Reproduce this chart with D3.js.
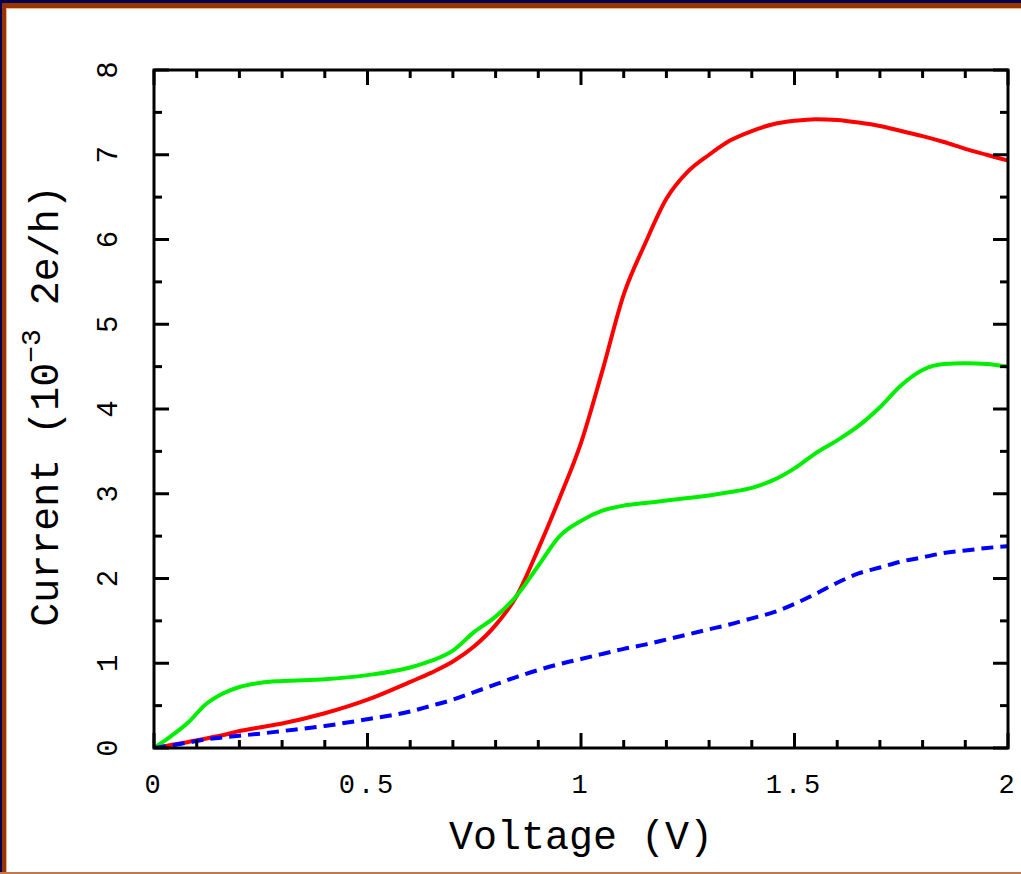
<!DOCTYPE html>
<html>
<head>
<meta charset="utf-8">
<script src="https://cdn.jsdelivr.net/npm/d3@7"></script>
<style>
  html, body { margin: 0; padding: 0; background: #fff; }
  svg { display: block; }
  text { font-family: "Liberation Mono", "Courier New", monospace; fill: #000; }
</style>
</head>
<body>
<script>
// Voltage sample points (V)
const voltage = [0, 0.04, 0.08, 0.12, 0.16, 0.2, 0.25, 0.3, 0.4, 0.5, 0.6, 0.65, 0.7, 0.75, 0.8, 0.85, 0.9, 0.95, 1.0,
  1.05, 1.1, 1.15, 1.2, 1.25, 1.3, 1.35, 1.4, 1.45, 1.5, 1.55, 1.6, 1.65, 1.7, 1.75, 1.8, 1.85, 1.9, 1.95, 2.0];

// Current in units of 1e-3 2e/h
const currentRed = [0, 0.035, 0.07, 0.11, 0.15, 0.2, 0.245, 0.29, 0.41, 0.57, 0.78, 0.89, 1.02, 1.2, 1.45, 1.8, 2.35, 2.95, 3.6,
  4.45, 5.35, 5.95, 6.48, 6.8, 7.0, 7.17, 7.28, 7.36, 7.4, 7.42, 7.41, 7.38, 7.34, 7.28, 7.22, 7.15, 7.07, 7.0, 6.93];
const currentGreen = [0, 0.14, 0.3, 0.51, 0.64, 0.72, 0.77, 0.79, 0.81, 0.86, 0.95, 1.03, 1.15, 1.37, 1.55, 1.8, 2.15, 2.5, 2.68,
  2.8, 2.86, 2.89, 2.92, 2.95, 2.98, 3.02, 3.07, 3.16, 3.3, 3.48, 3.63, 3.8, 4.02, 4.28, 4.46, 4.53, 4.54, 4.53, 4.5];
const currentBlue = [0, 0.03, 0.065, 0.1, 0.125, 0.145, 0.17, 0.2, 0.26, 0.34, 0.43, 0.5, 0.57, 0.66, 0.75, 0.84, 0.92, 0.99, 1.05,
  1.11, 1.17, 1.22, 1.28, 1.34, 1.4, 1.46, 1.53, 1.6, 1.7, 1.82, 1.95, 2.06, 2.13, 2.2, 2.25, 2.3, 2.33, 2.36, 2.38];

const xTickLabels = ["0", "0.5", "1", "1.5", "2"];
const xTickValues = [0, 0.5, 1, 1.5, 2];
const yTickValues = [0, 1, 2, 3, 4, 5, 6, 7, 8];

const W = 1021, H = 874;
const margin = { left: 154, top: 70, right: 13, bottom: 126 };
const pw = W - margin.left - margin.right;   // 854
const ph = H - margin.top - margin.bottom;   // 678

const svg = d3.select("body").append("svg").attr("width", W).attr("height", H);

// Window frame
svg.append("rect").attr("x", 0).attr("y", 0).attr("width", W).attr("height", 3).attr("fill", "#000050");
svg.append("rect").attr("x", 0).attr("y", 3).attr("width", W).attr("height", 5).attr("fill", "#993300");
svg.append("rect").attr("x", 6).attr("y", 8).attr("width", W - 6).attr("height", 1).attr("fill", "#f0b48c");
svg.append("rect").attr("x", 0).attr("y", 0).attr("width", 2).attr("height", H).attr("fill", "#000050");
svg.append("rect").attr("x", 2).attr("y", 3).attr("width", 4).attr("height", H - 3).attr("fill", "#993300");
svg.append("rect").attr("x", 6).attr("y", 8).attr("width", 1).attr("height", H - 8).attr("fill", "#f0b48c");
svg.append("rect").attr("x", 0).attr("y", H - 2).attr("width", W).attr("height", 2).attr("fill", "#c07850");

const g = svg.append("g").attr("transform", `translate(${margin.left},${margin.top})`);

const x = d3.scaleLinear().domain([0, 2]).range([0, pw]);
const y = d3.scaleLinear().domain([0, 8]).range([ph, 0]);

const series = [
  { values: currentRed, color: "#ff0000", dash: null },
  { values: currentGreen, color: "#00ee00", dash: null },
  { values: currentBlue, color: "#0000ff", dash: "12,7" }
];

const line = d3.line()
  .x(d => x(d[0]))
  .y(d => y(d[1]))
  .curve(d3.curveMonotoneX);

g.append("defs").append("clipPath").attr("id", "plotclip")
  .append("rect").attr("x", 0).attr("y", 0).attr("width", pw).attr("height", ph);

series.forEach(s => {
  g.append("path")
    .datum(voltage.map((v, i) => [v, s.values[i]]))
    .attr("clip-path", "url(#plotclip)")
    .attr("fill", "none")
    .attr("stroke", s.color)
    .attr("stroke-width", 4)
    .attr("stroke-dasharray", s.dash)
    .attr("d", line);
});

// Frame with inward ticks on all four sides
const xMinor = d3.range(0, 2.0001, 0.1);
const yMinor = d3.range(0, 8.0001, 0.5);
const majorLen = 15, minorLen = 8;

function isMajorX(v) { return xTickValues.some(t => Math.abs(t - v) < 1e-6); }
function isMajorY(v) { return yTickValues.some(t => Math.abs(t - v) < 1e-6); }

const axes = g.append("g").attr("stroke", "#000").attr("stroke-width", 3).attr("fill", "none");

xMinor.forEach(v => {
  const len = isMajorX(v) ? majorLen : minorLen;
  axes.append("line").attr("x1", x(v)).attr("x2", x(v)).attr("y1", ph).attr("y2", ph - len);
  axes.append("line").attr("x1", x(v)).attr("x2", x(v)).attr("y1", 0).attr("y2", len);
});
yMinor.forEach(v => {
  const len = isMajorY(v) ? majorLen : minorLen;
  axes.append("line").attr("x1", 0).attr("x2", len).attr("y1", y(v)).attr("y2", y(v));
  axes.append("line").attr("x1", pw).attr("x2", pw - len).attr("y1", y(v)).attr("y2", y(v));
});
axes.append("rect").attr("x", 0).attr("y", 0).attr("width", pw).attr("height", ph)
  .attr("stroke-linejoin", "miter");

// Tick labels
g.selectAll(".xl").data(xTickValues).enter().append("text")
  .attr("class", "xl")
  .attr("x", d => x(d))
  .attr("y", ph + 45)
  .attr("text-anchor", "middle")
  .style("font-size", "27px")
  .style("letter-spacing", "3px")
  .text((d, i) => xTickLabels[i]);

g.selectAll(".yl").data(yTickValues).enter().append("text")
  .attr("class", "yl")
  .attr("transform", d => `translate(${117 - margin.left},${y(d)}) rotate(-90)`)
  .attr("text-anchor", "middle")
  .style("font-size", "29px")
  .text(d => d);

// Axis titles
svg.append("text")
  .attr("x", margin.left + pw / 2)
  .attr("y", 849)
  .attr("text-anchor", "middle")
  .style("font-size", "40px")
  .text("Voltage (V)");

const yt = svg.append("text")
  .attr("transform", `translate(58,${margin.top + ph / 2 - 3}) rotate(-90)`)
  .attr("text-anchor", "middle")
  .style("font-size", "40px");
yt.append("tspan").text("Current (10");
yt.append("tspan").attr("dy", -18).style("font-size", "28px").text("−3");
yt.append("tspan").attr("dy", 18).text("  2e/h)");
</script>
</body>
</html>
